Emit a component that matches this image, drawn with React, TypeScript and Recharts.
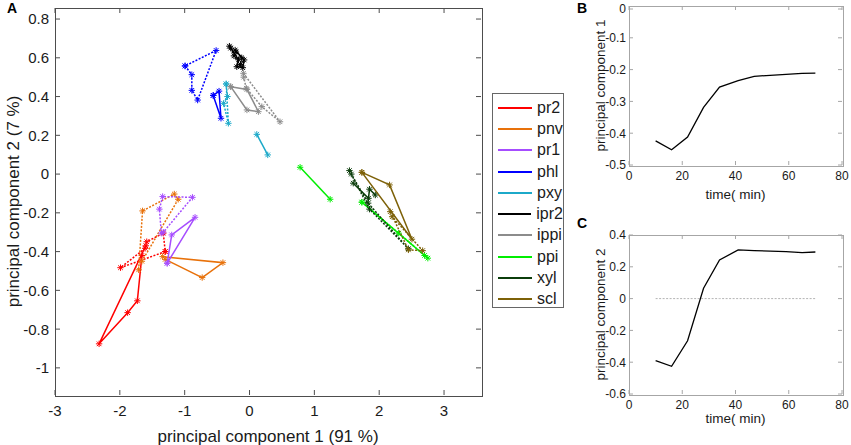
import React from 'react';
import { ScatterChart, Scatter, LineChart, Line, XAxis, YAxis } from 'recharts';

type Pt = { x: number; y: number };

// panel A: PCA trajectories (solid / dotted replicates)
const pr2Solid: Pt[] = [
  { x: -1.6, y: -0.37 }, { x: -2.32, y: -0.876 }, { x: -1.88, y: -0.715 }, { x: -1.73, y: -0.654 }, { x: -1.66, y: -0.42 },
];
const pr2Dotted: Pt[] = [
  { x: -1.3, y: -0.4 }, { x: -1.99, y: -0.483 }, { x: -1.61, y: -0.383 }, { x: -1.585, y: -0.349 }, { x: -1.33, y: -0.305 }, { x: -1.3, y: -0.4 },
];
const pnvSolid: Pt[] = [
  { x: -1.34, y: -0.426 }, { x: -0.41, y: -0.457 }, { x: -0.73, y: -0.534 }, { x: -1.3, y: -0.44 },
];
const pnvDotted: Pt[] = [
  { x: -1.71, y: -0.494 }, { x: -1.65, y: -0.19 }, { x: -1.16, y: -0.103 }, { x: -1.1, y: -0.13 }, { x: -1.66, y: -0.45 },
];
const pr1Solid: Pt[] = [
  { x: -1.27, y: -0.46 }, { x: -1.2, y: -0.314 }, { x: -0.84, y: -0.223 }, { x: -1.27, y: -0.46 },
];
const pr1Dotted: Pt[] = [
  { x: -1.36, y: -0.305 }, { x: -1.39, y: -0.181 }, { x: -1.34, y: -0.116 }, { x: -0.88, y: -0.12 }, { x: -1.33, y: -0.3 },
];
const phlSolid: Pt[] = [
  { x: -0.56, y: 0.406 }, { x: -0.44, y: 0.288 }, { x: -0.47, y: 0.428 }, { x: -0.56, y: 0.406 },
];
const phlDotted: Pt[] = [
  { x: -0.994, y: 0.558 }, { x: -0.89, y: 0.513 }, { x: -0.89, y: 0.432 }, { x: -0.8, y: 0.382 }, { x: -0.515, y: 0.638 }, { x: -0.994, y: 0.558 },
];
const pxySolid: Pt[] = [{ x: 0.112, y: 0.205 }, { x: 0.281, y: 0.099 }];
const pxyDotted: Pt[] = [
  { x: -0.36, y: 0.465 }, { x: -0.326, y: 0.262 }, { x: -0.4, y: 0.365 }, { x: -0.34, y: 0.4 }, { x: -0.36, y: 0.465 },
];
const ipr2Solid: Pt[] = [
  { x: -0.31, y: 0.66 }, { x: -0.17, y: 0.59 }, { x: -0.196, y: 0.554 }, { x: -0.104, y: 0.549 }, { x: -0.083, y: 0.589 }, { x: -0.222, y: 0.64 },
];
const ipr2Dotted: Pt[] = [
  { x: -0.29, y: 0.65 }, { x: -0.24, y: 0.61 }, { x: -0.14, y: 0.565 }, { x: -0.12, y: 0.6 }, { x: -0.21, y: 0.63 },
];
const ippiSolid: Pt[] = [
  { x: -0.29, y: 0.451 }, { x: -0.04, y: 0.437 }, { x: 0.137, y: 0.322 }, { x: -0.04, y: 0.331 }, { x: -0.29, y: 0.451 },
];
const ippiDotted: Pt[] = [
  { x: -0.094, y: 0.52 }, { x: 0.47, y: 0.27 }, { x: 0.19, y: 0.348 }, { x: -0.05, y: 0.443 }, { x: -0.09, y: 0.5 },
];
const ppiSolidA: Pt[] = [{ x: 0.78, y: 0.035 }, { x: 1.244, y: -0.13 }];
const ppiSolidB: Pt[] = [{ x: 1.733, y: -0.145 }, { x: 2.75, y: -0.434 }];
const ppiDotted: Pt[] = [{ x: 1.733, y: -0.145 }, { x: 2.3, y: -0.305 }, { x: 2.7, y: -0.42 }];
const xylSolid: Pt[] = [
  { x: 1.6, y: -0.047 }, { x: 1.835, y: -0.125 }, { x: 1.85, y: -0.078 }, { x: 1.94, y: -0.108 },
];
const xylDotted: Pt[] = [
  { x: 1.541, y: 0.018 }, { x: 1.85, y: -0.181 }, { x: 2.45, y: -0.385 }, { x: 1.83, y: -0.15 }, { x: 1.57, y: 0.0 },
];
const sclSolid: Pt[] = [
  { x: 1.733, y: 0.009 }, { x: 2.16, y: -0.056 }, { x: 2.505, y: -0.336 }, { x: 1.733, y: 0.009 },
];
const sclDotted: Pt[] = [
  { x: 2.17, y: -0.194 }, { x: 2.45, y: -0.391 }, { x: 2.67, y: -0.395 }, { x: 2.2, y: -0.22 },
];

const seriesNames = ['pr2', 'pnv', 'pr1', 'phl', 'pxy', 'ipr2', 'ippi', 'ppi', 'xyl', 'scl'];
const seriesColors = ['#ff0000', '#e8710a', '#a64dff', '#0000ff', '#1ca9c9', '#000000', '#8c8c8c', '#00ee00', '#0b3d0b', '#7d6108'];
const solidTracks: Pt[][][] = [
  [pr2Solid], [pnvSolid], [pr1Solid], [phlSolid], [pxySolid], [ipr2Solid], [ippiSolid], [ppiSolidA, ppiSolidB], [xylSolid], [sclSolid],
];
const dottedTracks: Pt[][][] = [
  [pr2Dotted], [pnvDotted], [pr1Dotted], [phlDotted], [pxyDotted], [ipr2Dotted], [ippiDotted], [ppiDotted], [xylDotted], [sclDotted],
];

const pc1Ticks = [-3, -2, -1, 0, 1, 2, 3];
const pc2Ticks = [-1, -0.8, -0.6, -0.4, -0.2, 0, 0.2, 0.4, 0.6, 0.8];

// panels B, C: component scores over time
const timeMin = [10, 16, 22, 28, 34, 41, 47, 59, 65, 70];
const pc1Values = [-0.424, -0.452, -0.412, -0.319, -0.255, -0.235, -0.221, -0.215, -0.212, -0.211];
const pc2Values = [-0.39, -0.426, -0.265, 0.065, 0.243, 0.306, 0.302, 0.296, 0.289, 0.293];
const zeroLevel = 0;
const timeTicks = [0, 20, 40, 60, 80];
const pc1TimeTicks = [-0.5, -0.4, -0.3, -0.2, -0.1, 0];
const pc2TimeTicks = [-0.6, -0.4, -0.2, 0, 0.2, 0.4];

const pc1Data = timeMin.map((t, i) => ({ t, v: pc1Values[i] }));
const pc2Data = timeMin.map((t, i) => ({ t, v: pc2Values[i], zero: zeroLevel }));

const FONT = '"Liberation Sans", Arial, sans-serif';
const TEXT = '#1a1a1a';

type Box = { left: number; top: number; right: number; bottom: number };

// Matlab-style box: inward ticks on all four sides, drawn with the tick labels
const makeXTick = (box: Box, color: string, len: number, fontSize: number, gap: number) => (props: any) => {
  const { x, payload } = props;
  return (
    <g>
      <line x1={x} y1={box.bottom} x2={x} y2={box.bottom - len} stroke={color} />
      <line x1={x} y1={box.top} x2={x} y2={box.top + len} stroke={color} />
      <text x={x} y={box.bottom + gap} textAnchor="middle" fontSize={fontSize} fill={TEXT}>
        {payload.value}
      </text>
    </g>
  );
};

const makeYTick = (box: Box, color: string, len: number, fontSize: number, gap: number) => (props: any) => {
  const { y, payload } = props;
  return (
    <g>
      <line x1={box.left} y1={y} x2={box.left + len} y2={y} stroke={color} />
      <line x1={box.right} y1={y} x2={box.right - len} y2={y} stroke={color} />
      <text x={box.left - gap} y={y} dy="0.36em" textAnchor="end" fontSize={fontSize} fill={TEXT}>
        {payload.value}
      </text>
    </g>
  );
};

const Frame = ({ box, color, offsetLeft, offsetTop }: { box: Box; color: string; offsetLeft: number; offsetTop: number }) => (
  <div
    style={{
      position: 'absolute',
      left: offsetLeft + box.left - 0.5,
      top: offsetTop + box.top - 0.5,
      width: box.right - box.left,
      height: box.bottom - box.top,
      border: `1px solid ${color}`,
      pointerEvents: 'none',
    }}
  />
);

const makeAsterisk = (color: string) => (props: any) => {
  const { cx, cy } = props;
  if (cx == null || cy == null) return <g />;
  const r = 3.2;
  const d = r * 0.72;
  return (
    <g stroke={color} strokeWidth={1}>
      <line x1={cx - r} y1={cy} x2={cx + r} y2={cy} />
      <line x1={cx} y1={cy - r} x2={cx} y2={cy + r} />
      <line x1={cx - d} y1={cy - d} x2={cx + d} y2={cy + d} />
      <line x1={cx - d} y1={cy + d} x2={cx + d} y2={cy - d} />
    </g>
  );
};

const mainBox: Box = { left: 55, top: 8, right: 481, bottom: 395 };
const mainAxisColor = '#4d4d4d';

function PcaPanel() {
  const scatters: React.ReactNode[] = [];
  seriesNames.forEach((name, i) => {
    const color = seriesColors[i];
    dottedTracks[i].forEach((track, j) => {
      scatters.push(
        <Scatter
          key={`${name}-d${j}`}
          data={track}
          fill={color}
          line={{ stroke: color, strokeWidth: 1.5, strokeDasharray: '2 1.5' }}
          shape={makeAsterisk(color)}
          isAnimationActive={false}
        />
      );
    });
    solidTracks[i].forEach((track, j) => {
      scatters.push(
        <Scatter
          key={`${name}-s${j}`}
          data={track}
          fill={color}
          line={{ stroke: color, strokeWidth: 1.5 }}
          shape={makeAsterisk(color)}
          isAnimationActive={false}
        />
      );
    });
  });

  return (
    <ScatterChart width={490} height={445} margin={{ top: 8, right: 9, bottom: 0, left: 0 }}>
      <XAxis
        type="number"
        dataKey="x"
        domain={[-3, 3.57]}
        ticks={pc1Ticks}
        allowDataOverflow
        height={50}
        axisLine={false}
        tickLine={false}
        tick={makeXTick(mainBox, mainAxisColor, 5, 15, 21)}
        label={{ value: 'principal component 1 (91 %)', position: 'insideBottom', offset: 3, fontSize: 17, fill: TEXT }}
      />
      <YAxis
        type="number"
        dataKey="y"
        domain={[-1.14, 0.857]}
        ticks={pc2Ticks}
        allowDataOverflow
        width={55}
        axisLine={false}
        tickLine={false}
        tick={makeYTick(mainBox, mainAxisColor, 5, 15, 6)}
        label={{ value: 'principal component 2 (7 %)', angle: -90, position: 'insideLeft', offset: 13, fontSize: 17, fill: TEXT, style: { textAnchor: 'middle' } }}
      />
      {scatters}
    </ScatterChart>
  );
}

const sideAxisColor = '#a6a6a6';

function TimePanel({
  data,
  box,
  yDomain,
  yTicks,
  yLabel,
  height,
  xLabelOffset,
  showZero,
}: {
  data: { t: number; v: number; zero?: number }[];
  box: Box;
  yDomain: [number, number];
  yTicks: number[];
  yLabel: string;
  height: number;
  xLabelOffset: number;
  showZero?: boolean;
}) {
  const width = 276;
  return (
    <LineChart
      width={width}
      height={height}
      data={data}
      margin={{ top: box.top, right: width - box.right, bottom: 0, left: 0 }}
    >
      <XAxis
        type="number"
        dataKey="t"
        domain={[0, 80]}
        ticks={timeTicks}
        allowDataOverflow
        height={height - box.bottom}
        axisLine={false}
        tickLine={false}
        tick={makeXTick(box, sideAxisColor, 4, 12, 15)}
        label={{ value: 'time( min)', position: 'insideBottom', offset: xLabelOffset, fontSize: 13.5, fill: TEXT }}
      />
      <YAxis
        type="number"
        domain={yDomain}
        ticks={yTicks}
        allowDataOverflow
        width={box.left}
        axisLine={false}
        tickLine={false}
        tick={makeYTick(box, sideAxisColor, 4, 12, 3)}
        label={{ value: yLabel, angle: -90, position: 'insideLeft', offset: 25, fontSize: 13.5, fill: TEXT, style: { textAnchor: 'middle' } }}
      />
      {showZero && (
        <Line dataKey="zero" stroke="#b3b3b3" strokeWidth={1} strokeDasharray="2 1.5" dot={false} isAnimationActive={false} />
      )}
      <Line dataKey="v" stroke="#000000" strokeWidth={1.3} dot={false} isAnimationActive={false} />
    </LineChart>
  );
}

function PcaLegend() {
  return (
    <div
      style={{
        position: 'absolute',
        left: 492,
        top: 93,
        width: 72,
        height: 215,
        border: '1px solid #666',
        background: '#fff',
        boxSizing: 'border-box',
        paddingTop: 3,
      }}
    >
      {seriesNames.map((name, i) => (
        <div key={name} style={{ display: 'flex', alignItems: 'center', height: 21.3 }}>
          <div style={{ width: 34, height: 2, marginLeft: 5, background: seriesColors[i] }} />
          <span style={{ marginLeft: 5, fontSize: 16, color: TEXT, lineHeight: '16px' }}>{name}</span>
        </div>
      ))}
    </div>
  );
}

const panelLetter = (text: string, left: number, top: number) => (
  <div style={{ position: 'absolute', left, top, fontSize: 14, fontWeight: 'bold', lineHeight: '14px', color: '#000' }}>
    {text}
  </div>
);

const boxB: Box = { left: 54, top: 6, right: 267, bottom: 165 };
const boxC: Box = { left: 54, top: 15, right: 267, bottom: 174 };

export default function App() {
  return (
    <div
      style={{
        position: 'absolute',
        left: 0,
        top: 0,
        width: 851,
        height: 445,
        background: '#fff',
        fontFamily: FONT,
        overflow: 'hidden',
      }}
    >
      <div style={{ position: 'absolute', left: 0, top: 0 }}>
        <PcaPanel />
      </div>
      <Frame box={mainBox} color={mainAxisColor} offsetLeft={0} offsetTop={0} />
      <PcaLegend />
      <div style={{ position: 'absolute', left: 575, top: 0 }}>
        <TimePanel
          data={pc1Data}
          box={boxB}
          yDomain={[-0.5, 0]}
          yTicks={pc1TimeTicks}
          yLabel="principal component 1"
          height={220}
          xLabelOffset={21}
        />
      </div>
      <Frame box={boxB} color={sideAxisColor} offsetLeft={575} offsetTop={0} />
      <div style={{ position: 'absolute', left: 575, top: 220 }}>
        <TimePanel
          data={pc2Data}
          box={boxC}
          yDomain={[-0.6, 0.4]}
          yTicks={pc2TimeTicks}
          yLabel="principal component 2"
          height={225}
          xLabelOffset={22}
          showZero
        />
      </div>
      <Frame box={boxC} color={sideAxisColor} offsetLeft={575} offsetTop={220} />
      {panelLetter('A', 7, 1)}
      {panelLetter('B', 577, 1)}
      {panelLetter('C', 577, 216)}
    </div>
  );
}
